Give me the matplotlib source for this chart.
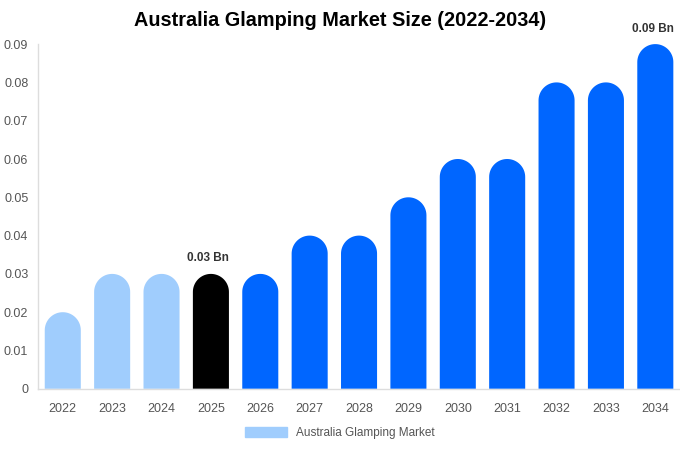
import numpy as np
import matplotlib.pyplot as plt
from matplotlib.patches import Polygon, Patch

plt.rcParams['font.family'] = ['Liberation Sans', 'DejaVu Sans']

# data
years = ['2022', '2023', '2024', '2025', '2026', '2027', '2028',
         '2029', '2030', '2031', '2032', '2033', '2034']
values = [0.02, 0.03, 0.03, 0.03, 0.03, 0.04, 0.04,
          0.05, 0.06, 0.06, 0.08, 0.08, 0.09]
labels = {3: '0.03 Bn', 12: '0.09 Bn'}

light = '#a0cdfd'
dark = '#0066ff'
colors = [light] * 3 + ['#000000'] + [dark] * 9

fig = plt.figure(figsize=(6.8, 4.5), dpi=100)
ax = fig.add_axes([0.056, 0.136, 0.944, 0.766])

ymax = 0.09
ax.set_xlim(-0.5, len(years) - 0.5)
ax.set_ylim(0, ymax)

bw = 0.73
# radius of rounded top, in data units (half bar width in pixels)
ax_h_px = 0.766 * 450
ax_w_px = 0.944 * 680
r_px = bw / len(years) * ax_w_px / 2
r = r_px / ax_h_px * ymax
t = np.linspace(np.pi, 0, 40)

for i, v in enumerate(values):
    xs = [i - bw / 2] + list(i + bw / 2 * np.cos(t)) + [i + bw / 2]
    ys = [0] + list(v - r + r * np.sin(t)) + [0]
    ax.add_patch(Polygon(np.column_stack([xs, ys]), closed=True,
                         facecolor=colors[i], edgecolor='none'))
    if i in labels:
        ax.text(i - 0.05, v + 0.0025, labels[i], ha='center', va='bottom',
                fontsize=8.5, fontweight='bold', color='#333333')

ax.set_xticks(range(len(years)))
ax.set_xticklabels(years)
ax.set_yticks([0, 0.01, 0.02, 0.03, 0.04, 0.05, 0.06, 0.07, 0.08, 0.09])
ax.set_yticklabels(['0', '0.01', '0.02', '0.03', '0.04', '0.05',
                    '0.06', '0.07', '0.08', '0.09'])
ax.tick_params(length=0, labelsize=9, colors='#555555')
ax.tick_params(axis='x', pad=10)
ax.tick_params(axis='y', pad=7)

for s in ['top', 'right']:
    ax.spines[s].set_visible(False)
for s in ['left', 'bottom']:
    ax.spines[s].set_color('#dddddd')
    ax.spines[s].set_linewidth(1)

fig.text(0.5, 0.955, 'Australia Glamping Market Size (2022-2034)',
         ha='center', va='center', fontsize=14.3, fontweight='bold')

fig.legend(handles=[Patch(color=light, label='Australia Glamping Market')],
           loc='center', bbox_to_anchor=(0.5, 0.037), frameon=False,
           fontsize=8.5, handlelength=3.5, handleheight=0.9,
           labelcolor='#555555')

fig.savefig('out.png')
